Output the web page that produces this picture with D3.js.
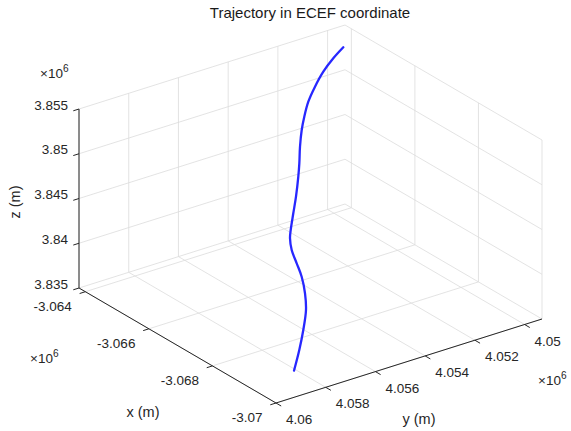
<!DOCTYPE html>
<html>
<head>
<meta charset="utf-8">
<script src="https://cdn.jsdelivr.net/npm/d3@7"></script>
<style>
  html, body { margin: 0; padding: 0; background: #ffffff; }
  svg text { font-family: "Liberation Sans", Arial, Helvetica, sans-serif; }
</style>
</head>
<body>
<svg id="chart" width="571" height="431"></svg>
<script>
// ECEF trajectory samples (metres)
const trajX = [-3069931, -3069575, -3069215, -3068836, -3068472, -3068076, -3067723, -3067372,
               -3067103, -3066939, -3066627, -3066319, -3065934, -3065669, -3065331, -3065007,
               -3064766, -3064511, -3064294, -3064101, -3063966, -3063881];
const trajY = [4059188, 4058520, 4057899, 4057306, 4056880, 4056508, 4056257, 4056010,
               4055734, 4055496, 4054993, 4054491, 4053906, 4053526, 4053067, 4052584,
               4052172, 4051684, 4051138, 4050557, 4049983, 4049472];
const trajZ = [3837754, 3838742, 3839686, 3840614, 3841354, 3842062, 3842608, 3843148,
               3843654, 3844036, 3844814, 3845590, 3846514, 3847126, 3847878, 3848648,
               3849276, 3849994, 3850742, 3851508, 3852222, 3852828];

// Axis limits and ticks
const xLim = [-3063800, -3070000];
const yLim = [4060000, 4049300];
const zLim = [3835000, 3855000];
const xTicks = [-3064000, -3066000, -3068000, -3070000];
const xTickLabels = ["-3.064", "-3.066", "-3.068", "-3.07"];
const yTicks = [4060000, 4058000, 4056000, 4054000, 4052000, 4050000];
const yTickLabels = ["4.06", "4.058", "4.056", "4.054", "4.052", "4.05"];
const zTicks = [3835000, 3840000, 3845000, 3850000, 3855000];
const zTickLabels = ["3.835", "3.84", "3.845", "3.85", "3.855"];

const svg = d3.select("#chart");

// normalised box coordinates
const xS = d3.scaleLinear().domain(xLim).range([0, 1]);
const yS = d3.scaleLinear().domain(yLim).range([0, 1]);
const zS = d3.scaleLinear().domain(zLim).range([0, 1]);

// oblique projection of the unit box onto the page
const O = [79, 288], EX = [197, 115], EY = [266, -84], H = 179;
function proj(u, v, w) {
  return [O[0] + EX[0] * u + EY[0] * v, O[1] + EX[1] * u + EY[1] * v - H * w];
}
const P = (x, y, z) => proj(xS(x), yS(y), zS(z));

const gridColor = "#dcdcdc";
const axisColor = "#262626";
const grid = svg.append("g").attr("stroke", gridColor).attr("stroke-width", 0.8).attr("fill", "none");
function seg(g, a, b) {
  g.append("line").attr("x1", a[0]).attr("y1", a[1]).attr("x2", b[0]).attr("y2", b[1]);
}

// floor + right wall (y = ymin) lines at x ticks
xTicks.forEach(t => {
  const u = xS(t);
  seg(grid, proj(u, 0, 0), proj(u, 1, 0));
  seg(grid, proj(u, 1, 0), proj(u, 1, 1));
});
// floor + left wall (x = xmax) lines at y ticks
yTicks.forEach(t => {
  const v = yS(t);
  seg(grid, proj(0, v, 0), proj(1, v, 0));
  seg(grid, proj(0, v, 0), proj(0, v, 1));
});
// both walls at z ticks
zTicks.forEach(t => {
  const w = zS(t);
  seg(grid, proj(0, 0, w), proj(0, 1, w));
  seg(grid, proj(0, 1, w), proj(1, 1, w));
});

// trajectory
const pts = trajX.map((x, i) => P(x, trajY[i], trajZ[i]));
svg.append("path")
  .attr("d", d3.line().curve(d3.curveCatmullRom.alpha(0.5))(pts))
  .attr("fill", "none")
  .attr("stroke", "#1010ff")
  .attr("stroke-opacity", 0.9)
  .attr("stroke-width", 2.3)
  .attr("stroke-linecap", "round")
  .attr("stroke-linejoin", "round");

// axis lines
const axes = svg.append("g").attr("stroke", axisColor).attr("stroke-width", 1).attr("fill", "none");
seg(axes, proj(0, 0, 0), proj(1, 0, 0));  // x axis
seg(axes, proj(1, 0, 0), proj(1, 1, 0));  // y axis
seg(axes, proj(0, 0, 0), proj(0, 0, 1));  // z axis

// outward tick marks
const tickLen = 6;
const nEY = Math.hypot(EY[0], EY[1]), nEX = Math.hypot(EX[0], EX[1]);
const dEY = [EY[0] / nEY, EY[1] / nEY], dEX = [EX[0] / nEX, EX[1] / nEX];

const fs = 13.5;
const labels = svg.append("g").attr("fill", axisColor).attr("font-size", fs);

xTicks.forEach((t, i) => {
  const p = proj(xS(t), 0, 0);
  seg(axes, p, [p[0] - dEY[0] * tickLen, p[1] - dEY[1] * tickLen]);
  labels.append("text").attr("x", p[0] - 13.5).attr("y", p[1] + 15.5)
    .attr("text-anchor", "end").attr("dominant-baseline", "middle").text(xTickLabels[i]);
});
yTicks.forEach((t, i) => {
  const p = proj(1, yS(t), 0);
  seg(axes, p, [p[0] + dEX[0] * tickLen, p[1] + dEX[1] * tickLen]);
  labels.append("text").attr("x", p[0] + 10).attr("y", p[1] + 17.5)
    .attr("text-anchor", "start").attr("dominant-baseline", "middle").text(yTickLabels[i]);
});
zTicks.forEach((t, i) => {
  const p = proj(0, 0, zS(t));
  seg(axes, p, [p[0] - dEY[0] * tickLen, p[1] - dEY[1] * tickLen]);
  labels.append("text").attr("x", p[0] - 11).attr("y", p[1] - 3)
    .attr("text-anchor", "end").attr("dominant-baseline", "middle").text(zTickLabels[i]);
});

// exponent markers
function expo(x, y) {
  const t = labels.append("text").attr("x", x).attr("y", y).attr("dominant-baseline", "middle");
  t.append("tspan").text("\u00d710");
  t.append("tspan").attr("dy", -5).attr("font-size", fs * 0.75).text("6");
}
expo(40, 74);
expo(30, 359);
expo(538, 381);

// axis titles
const tfs = 14.5;
svg.append("text").attr("x", 143).attr("y", 413).attr("text-anchor", "middle")
  .attr("dominant-baseline", "middle").attr("font-size", tfs).attr("fill", axisColor).text("x (m)");
svg.append("text").attr("x", 419).attr("y", 420).attr("text-anchor", "middle")
  .attr("dominant-baseline", "middle").attr("font-size", tfs).attr("fill", axisColor).text("y (m)");
svg.append("text").attr("transform", "translate(16,202) rotate(-90)").attr("text-anchor", "middle")
  .attr("dominant-baseline", "middle").attr("font-size", tfs).attr("fill", axisColor).text("z (m)");

// chart title
svg.append("text").attr("x", 310).attr("y", 14).attr("text-anchor", "middle")
  .attr("dominant-baseline", "middle").attr("font-size", 15).attr("fill", "#1a1a1a")
  .text("Trajectory in ECEF coordinate");
</script>
</body>
</html>
